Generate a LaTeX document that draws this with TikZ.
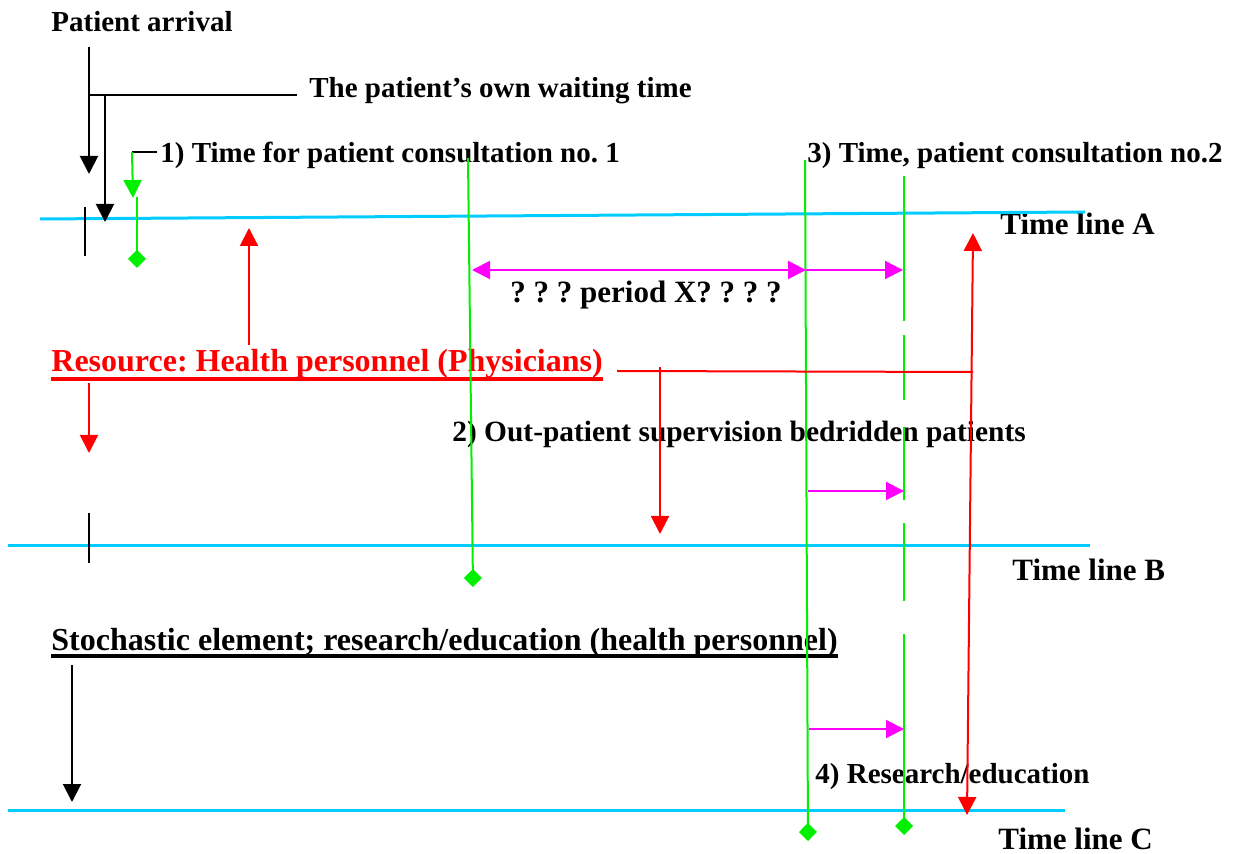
\documentclass[tikz,border=0pt]{standalone}
\usepackage{fontspec}
\setmainfont{Liberation Serif}
\usetikzlibrary{arrows.meta}
\frenchspacing

\definecolor{tlcyan}{RGB}{0,204,255}
\definecolor{tlgreen}{RGB}{0,240,0}
\definecolor{tlmagenta}{RGB}{255,0,255}

\begin{document}
\begin{tikzpicture}[x=0.5pt, y=-0.5pt,
    lbl/.style={inner sep=0pt, anchor=base west, font=\bfseries\fontsize{14.5}{17}\selectfont},
    midlbl/.style={lbl, font=\bfseries\fontsize{15.5}{18}\selectfont},
    biglbl/.style={lbl, font=\bfseries\fontsize{16}{19}\selectfont},
    tline/.style={line width=1.5pt, tlcyan},
    tip/.style={line width=1pt, -{Triangle[length=9pt, width=9pt]}},
    dtip/.style={line width=1pt, {Triangle[length=9pt, width=9pt]}-{Triangle[length=9pt, width=9pt]}},
    dia/.style={line width=1pt, tlgreen, -{Diamond[length=9pt, width=9pt]}}]
      \useasboundingbox (0,0) rectangle (1235,854);

      % labels
      \node[lbl] (arrival) at (51,32) {Patient arrival};
      \node[lbl] (owntime) at (309,98) {The patient’s own waiting time};
      \node[lbl] (cons1) at (160,163) {1) Time for patient consultation no. 1};
      \node[lbl] (cons2) at (807,163) {3) Time, patient consultation no.2};
      \node[midlbl] (lineA) at (1000,235) {Time line A};
      \node[midlbl] (periodX) at (510,303) {? ? ? period X? ? ? ?};
      \node[biglbl, red] (resource) at (51,372) {Resource: Health personnel (Physicians)};
      \node[lbl, font=\bfseries\fontsize{14.7}{17}\selectfont] (superv) at (452,442) {2) Out-patient supervision bedridden patients};
      \node[midlbl] (lineB) at (1012,581) {Time line B};
      \node[biglbl] (stoch) at (51,650) {Stochastic element; research/education (health personnel)};
      \node[lbl] (research) at (815,783) {4) Research/education};
      \node[midlbl] (lineC) at (998,849) {Time line C};

      \draw[red, line width=2pt] ([yshift=-3.5pt]resource.base west) -- ([yshift=-3.5pt]resource.base east);
      \draw[line width=2pt] ([yshift=-3pt]stoch.base west) -- ([yshift=-3pt]stoch.base east);

      % time lines
      \draw[tline] (40,219) coordinate (A0) -- (1085,212) coordinate (A1);
      \draw[tline] (8,546) coordinate (B0) -- (1090,546) coordinate (B1);
      \draw[tline] (8,810) coordinate (C0) -- (1065,810) coordinate (C1);

      % black
      \draw[tip] (89,47) coordinate (arrTop) -- (89,174) coordinate (arrBot);
      \draw[line width=1pt] (89,95) coordinate (waitL) -- (297,95) coordinate (waitR);
      \draw[tip] (105,95) coordinate (waitTop) -- (105,222) coordinate (waitBot);
      \draw[line width=1pt] (85,207) -- (85,256);
      \draw[line width=1pt] (89,513) -- (89,563);
      \draw[line width=1pt] (132,152) coordinate (c1L) -- (157,152) coordinate (c1R);
      \draw[tip] (72,665) coordinate (stochTop) -- (72,802) coordinate (stochBot);

      % green
      \draw[tip, tlgreen] (c1L) -- (133,198);
      \draw[dia] (137,197) -- (137,268);
      \draw[dia] (468,158) coordinate (g1) -- (473,587) coordinate (g1end);
      \draw[dia] (805,160) coordinate (g2) -- (808,841) coordinate (g2end);
      \foreach \ya/\yb in {176/321, 335/400, 427/500, 523/601}
        \draw[line width=1pt, tlgreen] (904,\ya) -- (904,\yb);
      \draw[dia] (904,634) -- (904,835) coordinate (g3end);

      % magenta
      \draw[dtip, tlmagenta] (472,270) coordinate (pX0) -- (806,270) coordinate (pX1);
      \draw[tip, tlmagenta] (pX1) -- (903,270);
      \draw[tip, tlmagenta] (808,491) -- (904,491);
      \draw[tip, tlmagenta] (809,729) -- (904,729);

      % red
      \draw[tip, red] (249,345) -- (249,228);
      \draw[tip, red] (89,383) -- (89,453);
      \draw[line width=1pt, red] (617,371) coordinate (resR) -- (973,372) coordinate (resJ);
      \draw[tip, red] (660,367) -- (660,534);
      \draw[dtip, red] (967,815) -- (973,233);
\end{tikzpicture}
\end{document}
